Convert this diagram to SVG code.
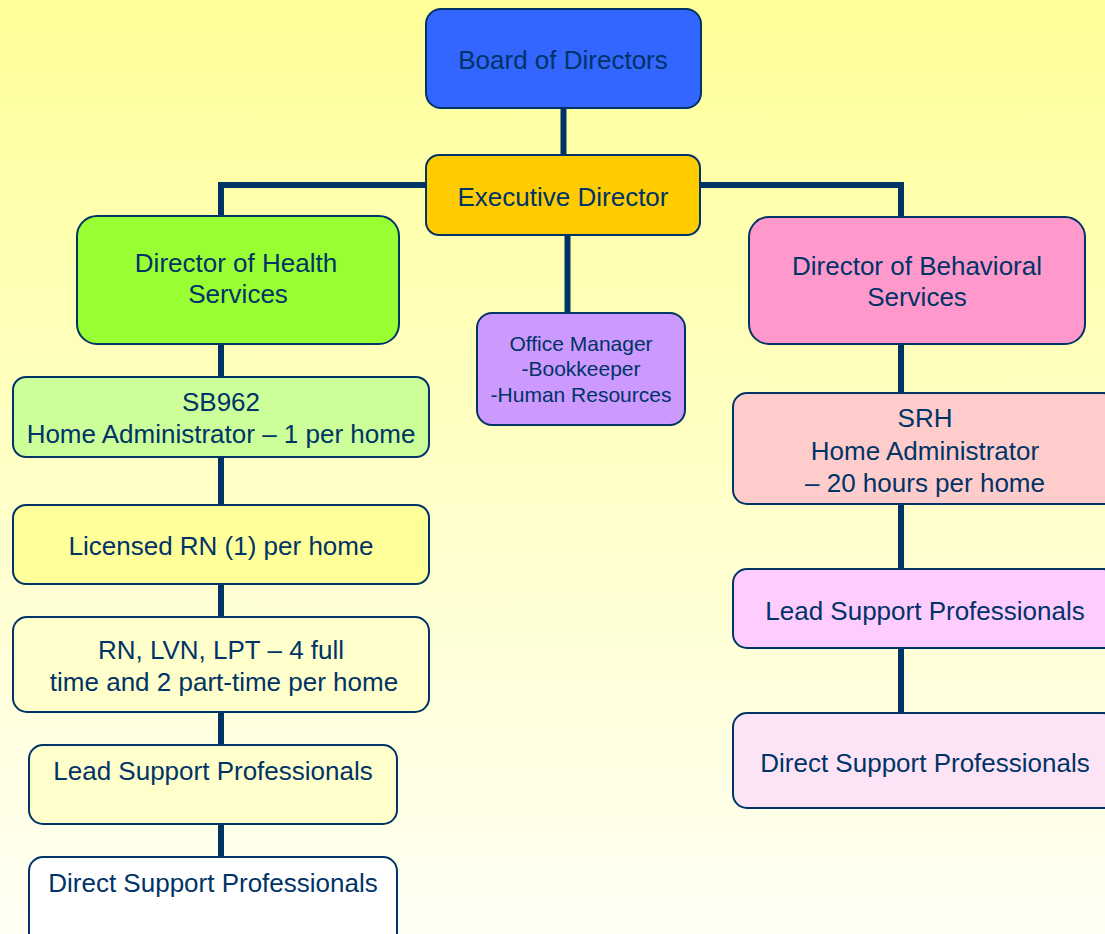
<svg xmlns="http://www.w3.org/2000/svg" width="1105" height="934" viewBox="0 0 1105 934">
<defs>
<linearGradient id="bg" x1="0" y1="0" x2="0" y2="1">
<stop offset="0" stop-color="#FFFF99"/>
<stop offset="1" stop-color="#FFFFF4"/>
</linearGradient>
</defs>
<style>
.box{stroke:#003366;stroke-width:2}
.t{font-family:"Liberation Sans",Arial,sans-serif;font-size:26px;fill:#003366;text-anchor:middle}
.s{font-size:21px}
.c{stroke:#003366;stroke-width:6;fill:none;stroke-linecap:butt;stroke-linejoin:miter}
</style>
<rect width="1105" height="934" fill="url(#bg)"/>
<g id="connectors">
<line class="c" x1="563.5" y1="108" x2="563.5" y2="156"/>
<polyline class="c" points="427,185 221,185 221,217"/>
<polyline class="c" points="700,185 901,185 901,218"/>
<line class="c" x1="567.5" y1="235" x2="567.5" y2="314"/>
<line class="c" x1="221" y1="344" x2="221" y2="378"/>
<line class="c" x1="221" y1="456" x2="221" y2="506"/>
<line class="c" x1="221" y1="583" x2="221" y2="618"/>
<line class="c" x1="221" y1="711" x2="221" y2="746"/>
<line class="c" x1="221" y1="823" x2="221" y2="858"/>
<line class="c" x1="901" y1="344" x2="901" y2="394"/>
<line class="c" x1="901" y1="503" x2="901" y2="570"/>
<line class="c" x1="901" y1="647" x2="901" y2="714"/>
</g>
<g id="board">
<rect class="box" x="426" y="9" width="275" height="99" rx="15" fill="#3366FF"/>
<text class="t" x="563" y="69">Board of Directors</text>
</g>
<g id="exec">
<rect class="box" x="426" y="155" width="274" height="80" rx="13" fill="#FFCC00"/>
<text class="t" x="563" y="206">Executive Director</text>
</g>
<g id="health">
<rect class="box" x="77" y="216" width="322" height="128" rx="20" fill="#99FF33"/>
<text class="t" x="236" y="272">Director of Health</text>
<text class="t" x="238" y="303">Services</text>
</g>
<g id="behavioral">
<rect class="box" x="749" y="217" width="336" height="127" rx="20" fill="#FF99CC"/>
<text class="t" x="917" y="275">Director of Behavioral</text>
<text class="t" x="917" y="306">Services</text>
</g>
<g id="office">
<rect class="box" x="477" y="313" width="208" height="112" rx="15" fill="#CC99FF"/>
<text class="t s" x="581" y="351">Office Manager</text>
<text class="t s" x="581" y="376">-Bookkeeper</text>
<text class="t s" x="581" y="402">-Human Resources</text>
</g>
<g id="sb962">
<rect class="box" x="13" y="377" width="416" height="80" rx="13" fill="#CCFF99"/>
<text class="t" x="221" y="411">SB962</text>
<text class="t" x="221" y="443">Home Administrator – 1 per home</text>
</g>
<g id="licensed-rn">
<rect class="box" x="13" y="505" width="416" height="79" rx="13" fill="#FFFF99"/>
<text class="t" x="221" y="555">Licensed RN (1) per home</text>
</g>
<g id="rn-lvn-lpt">
<rect class="box" x="13" y="617" width="416" height="95" rx="14" fill="#FFFFCC"/>
<text class="t" x="221" y="659">RN, LVN, LPT – 4 full</text>
<text class="t" x="224" y="691">time and 2 part-time per home</text>
</g>
<g id="lead-left">
<rect class="box" x="29" y="745" width="368" height="79" rx="14" fill="#FFFFCC"/>
<text class="t" x="213" y="780">Lead Support Professionals</text>
</g>
<g id="direct-left">
<rect class="box" x="29" y="857" width="368" height="90" rx="14" fill="#FFFFFF"/>
<text class="t" x="213" y="892">Direct Support Professionals</text>
</g>
<g id="srh">
<rect class="box" x="733" y="393" width="384" height="111" rx="14" fill="#FFCCCC"/>
<text class="t" x="925" y="427">SRH</text>
<text class="t" x="925" y="460">Home Administrator</text>
<text class="t" x="925" y="492">– 20 hours per home</text>
</g>
<g id="lead-right">
<rect class="box" x="733" y="569" width="384" height="79" rx="14" fill="#FFCCFF"/>
<text class="t" x="925" y="620">Lead Support Professionals</text>
</g>
<g id="direct-right">
<rect class="box" x="733" y="713" width="384" height="95" rx="14" fill="#FCE4F6"/>
<text class="t" x="925" y="772">Direct Support Professionals</text>
</g>
</svg>
